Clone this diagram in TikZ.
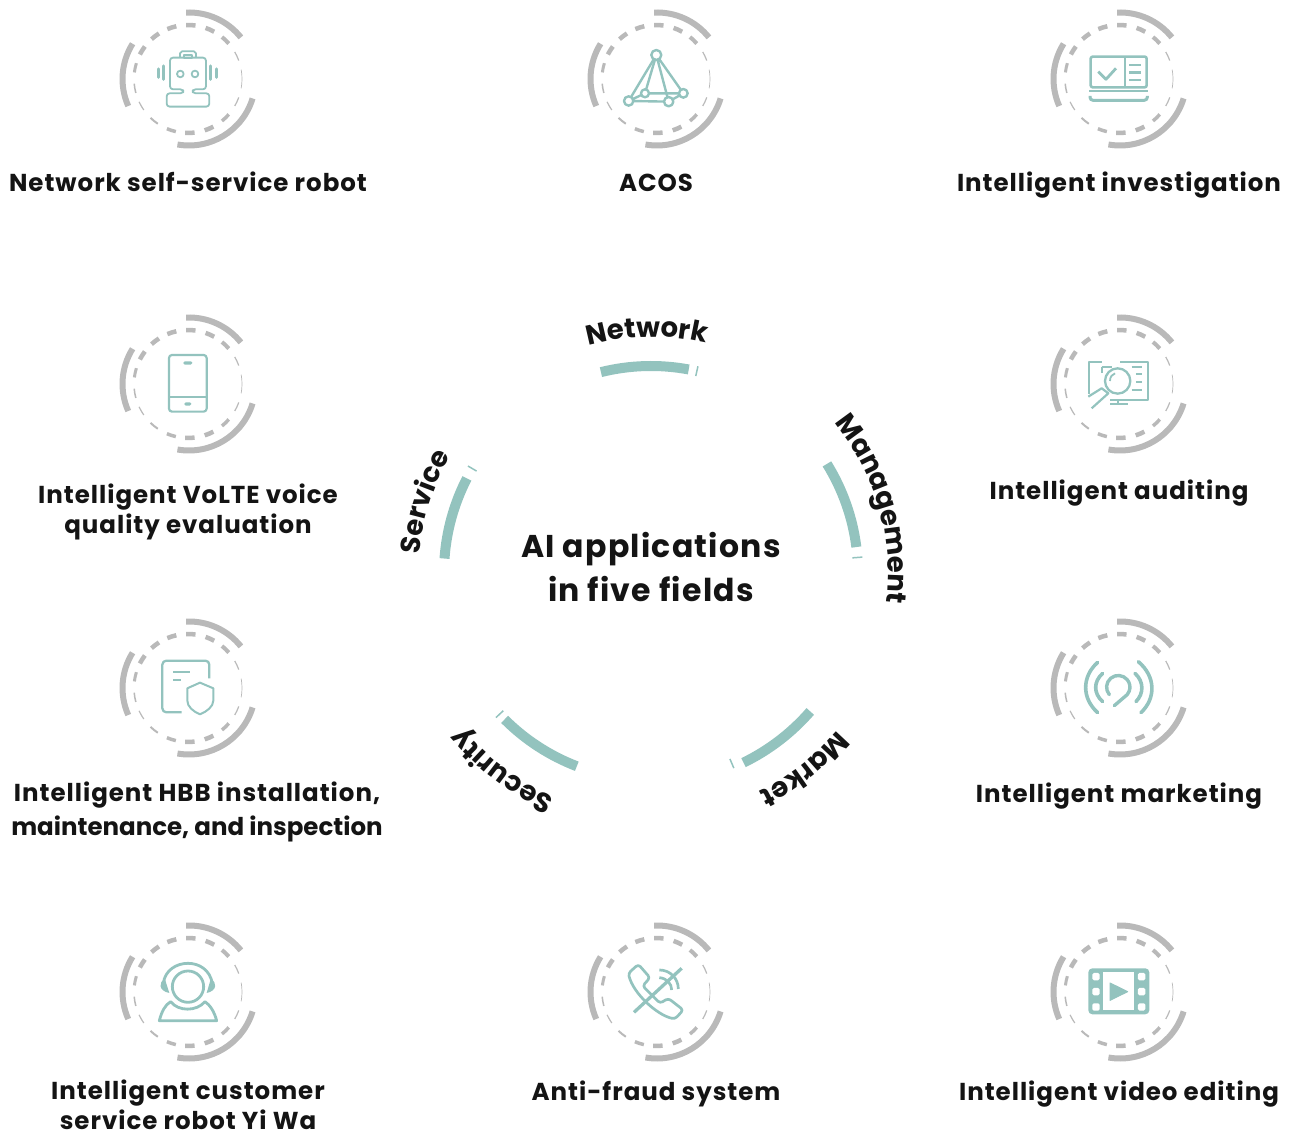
\documentclass[tikz,border=0pt]{standalone}
\usepackage{fontspec}
\setmainfont{Poppins}
\usetikzlibrary{decorations.text}
\definecolor{ringgray}{HTML}{B9B9B9}
\definecolor{iconteal}{HTML}{93C3BE}
\definecolor{inktext}{HTML}{141414}
\newfontfamily\spacedfont[LetterSpace=4]{Poppins}
\newfontfamily\plainfont{Poppins}
\tikzset{
  cropat/.style 2 args={shift={(#1,1135-#2)},x=.3333pt,y=-.3333pt},
  iconline/.style={draw=iconteal, line width=1.8pt, line join=round},
  ringarc/.style={draw=ringgray, line width=6pt},
  fieldarc/.style={draw=iconteal, line width=10pt},
  fieldtick/.style={draw=iconteal, line width=1.5pt},
  appname/.style={font=\spacedfont\fontsize{24.5}{30}\selectfont\bfseries, text=inktext, align=center, inner sep=0pt},
}
\newcommand{\fieldname}[3]{% angle, radius, text
  \path[decorate, decoration={text along path, text align=center,
    text={|\fontsize{27.5}{28}\selectfont\bfseries\color{inktext}|#3}}]
    (651,562) ++(#1+45:#2) arc[start angle=#1+45, end angle=#1-45, radius=#2];
}
\begin{document}
\begin{tikzpicture}[x=1pt,y=1pt]
    \useasboundingbox (0,0) rectangle (1294,1135);

    % 1. rings
    \foreach \cx/\cy in {188/1056,656/1056,1119/1056,188/751,1119/751,188/447,1119/447,188/143,656/143,1119/143} {
      \draw[ringarc] (\cx+1,\cy) ++(92.5:66.5) arc[start angle=92.5, end angle=38.7, radius=66.5];
      \draw[ringarc] (\cx+1,\cy) ++(-17:66.5) arc[start angle=-17, end angle=-100, radius=66.5];
      \draw[ringarc] (\cx+1,\cy) ++(148:66.5) arc[start angle=148, end angle=204, radius=66.5];
      \foreach \a/\s/\w in {87/5/4.5,66/5/4.5,46/5/4,25/5/1.2,0/10/.7,-25/5/1.2,-46/5/3.5,-67/5/4.5,-88/5/4.5,-108/5/3.5,-129/5/2,-150/5/1.2,-170/5/1.5,168/5/3,148/5/4.5,127.5/5/4.5,107.5/5/4.5} {
        \draw[draw=ringgray, line width=\w pt] (\cx,\cy) ++(\a+\s:54) arc[start angle=\a+\s, end angle=\a-\s, radius=54];
      }
    }

    % 2. icons
    \begin{scope}[cropat={100}{0}] % robot
      \draw[iconline] (240,173) -- (240,160) -- (246,154) -- (282,154) -- (288,160) -- (288,173);
      \draw[iconline] (252,165) rectangle (276,175);
      \draw[iconline, rounded corners=3pt] (250,268) -- (210,268) -- (210,173) -- (318,173) -- (318,268) -- (278,268) -- (278,280) -- (328,280) -- (328,320) -- (200,320) -- (200,280) -- (250,280) -- cycle;
      \draw[iconline] (241,222) circle (10) (285,222) circle (10);
      \draw[iconline, line width=3pt, line cap=round] (192,198) -- (192,238) (177,207) -- (177,232) (333,198) -- (333,238) (350,207) -- (350,232);
    \end{scope}

    \begin{scope}[cropat={570}{0}] % ACOS
      \draw[iconline, line width=2.4pt] (259,165) -- (176,303) -- (296,305) -- (340,280) -- (225,280) -- (176,303);
      \draw[iconline, line width=2.4pt] (225,280) -- (259,165) -- (296,305) (259,165) -- (340,280);
      \foreach \px/\py/\r in {259/165/15,176/303/14,296/305/14,340/280/13,225/280/12} {
        \draw[iconline, line width=2.4pt, fill=white] (\px,\py) circle (\r);
      }
    \end{scope}

    \begin{scope}[cropat={1030}{0}] % investigation
      \draw[iconline, line width=2.6pt, rounded corners=2pt] (182,170) rectangle (350,262);
      \draw[iconline, line width=2.6pt] (285,170) -- (285,262) (298,195) -- (332,195) (298,217) -- (332,217) (298,240) -- (332,240);
      \draw[iconline, line width=2.8pt] (205,215) -- (228,238) -- (258,205);
      \draw[iconline, line width=2.8pt] (178,273) -- (354,273);
      \draw[iconline, line width=3pt, rounded corners=3pt] (180,288) -- (180,301) -- (352,301) -- (352,288);
    \end{scope}

    \begin{scope}[cropat={100}{305}] % phone
      \draw[iconline, line width=2.2pt, rounded corners=3pt] (207,150) rectangle (320,320);
      \draw[iconline, line width=2.2pt] (207,276) -- (320,276);
      \fill[iconteal, rounded corners=1.5pt] (250,169) rectangle (277,179);
      \fill[iconteal, rounded corners=1.5pt] (253,292) rectangle (274,302);
    \end{scope}

    \begin{scope}[cropat={1030}{305}] % auditing
      \draw[iconline] (215,170) -- (178,170) -- (178,268);
      \draw[iconline] (270,170) -- (355,170) -- (355,285) -- (240,285);
      \draw[iconline] (215,185) -- (245,185) (215,185) -- (215,205);
      \draw[iconline] (305,187) -- (335,187) (318,208) -- (335,208) (318,230) -- (335,230) (305,254) -- (335,254);
      \draw[iconline] (265,285) -- (265,298) (240,298) -- (293,298);
      \draw[iconline, line width=2.3pt, fill=white] (263,228) circle (38);
      \draw[iconline] (240,228) .. controls (240,216) and (246,208) .. (255,205);
      \draw[iconline, line width=2.2pt] (175,275) -- (215,250) -- (235,265) -- (185,310);
    \end{scope}

    \begin{scope}[cropat={100}{610}] % shield
      \draw[iconline, line width=2.3pt, rounded corners=4pt] (245,307) -- (187,307) -- (187,152) -- (328,152) -- (328,205);
      \draw[iconline, line width=2.3pt] (220,187) -- (270,187) (220,210) -- (242,210);
      \draw[iconline, line width=2pt] (300,218) -- (340,235) -- (340,272) .. controls (340,290) and (320,305) .. (300,313) .. controls (280,305) and (262,290) .. (262,272) -- (262,235) -- cycle;
    \end{scope}

    \begin{scope}[cropat={1030}{610}] % marketing
      \draw[iconline, line width=3.6pt, line cap=round] (203,157) .. controls (155,200) and (155,265) .. (203,308);
      \draw[iconline, line width=3.6pt, line cap=round] (325,155) .. controls (378,200) and (378,265) .. (333,308);
      \draw[iconline, line width=3.6pt, line cap=round] (218,190) .. controls (190,215) and (190,250) .. (218,275);
      \draw[iconline, line width=3.6pt, line cap=round] (315,190) .. controls (342,215) and (342,250) .. (318,275);
      \draw[iconline, line width=3.4pt, line cap=round] (238,254) arc[start angle=140, end angle=420, radius=35] -- (253,287);
    \end{scope}

    \begin{scope}[cropat={100}{915}] % customer service
      \draw[iconline, line width=2.8pt] (190,205) .. controls (195,165) and (230,145) .. (264,145) .. controls (298,145) and (330,165) .. (337,205);
      \fill[iconteal] (195,193) .. controls (175,200) and (175,228) .. (208,234) -- cycle;
      \fill[iconteal] (332,193) .. controls (352,200) and (352,228) .. (320,234) -- cycle;
      \draw[iconline, line width=2.8pt] (264,215) circle (47);
      \draw[iconline, line width=2.8pt] (178,317) .. controls (185,290) and (195,270) .. (212,260) .. controls (235,290) and (290,290) .. (315,260) .. controls (330,270) and (343,290) .. (350,317) -- cycle;
    \end{scope}

    \begin{scope}[cropat={570}{915}] % anti-fraud
      \draw[iconline, line width=2.7pt, rounded corners=3pt] (205,148) -- (240,188) -- (218,213) -- (270,265) -- (295,250) -- (340,285) -- (315,312) .. controls (260,300) and (190,235) .. (175,175) -- cycle;
      \draw[iconline, line width=3.3pt] (192,292) -- (335,160);
      \draw[iconline, line width=2.7pt] (268,165) .. controls (300,165) and (325,190) .. (325,222);
      \draw[iconline, line width=2.7pt] (268,188) .. controls (290,190) and (305,205) .. (305,225);
    \end{scope}

    \begin{scope}[cropat={1030}{915}] % video
      \fill[iconteal, rounded corners=4pt] (175,160) rectangle (358,298);
      \fill[white] (220,172) rectangle (312,286);
      \foreach \py in {185,230,276} {
        \fill[white, rounded corners=1.5pt] (187,\py-11) rectangle (209,\py+11);
        \fill[white, rounded corners=1.5pt] (324,\py-11) rectangle (346,\py+11);
      }
      \fill[iconteal, draw=iconteal, line join=round, line width=1pt] (240,204) -- (293,230) -- (240,256) -- cycle;
    \end{scope}

    % 3. labels
    \node[appname, anchor=base] (robot) at (188,943) {Network self-service robot};
    \node[appname, anchor=base] (acos) at (656,943) {ACOS};
    \node[appname, anchor=base] (investigation) at (1119,943) {Intelligent investigation};
    \node[appname] (volte) at (188,623) {Intelligent VoLTE voice\\quality evaluation};
    \node[appname, anchor=base] (auditing) at (1119,635) {Intelligent auditing};
    \node[appname, font=\spacedfont\fontsize{24.5}{34}\selectfont\bfseries] (hbb) at (197,323) {Intelligent HBB installation,\\{\plainfont\bfseries maintenance, and inspection}};
    \node[appname, anchor=base] (marketing) at (1119,332) {Intelligent marketing};
    \node[appname] (yiwa) at (188,30) {Intelligent customer\\service robot Yi Wa};
    \node[appname, anchor=base] (antifraud) at (656,34) {Anti-fraud system};
    \node[appname, anchor=base] (video) at (1119,34) {Intelligent video editing};
    \node[appname, font=\spacedfont\fontsize{31.5}{44}\selectfont\bfseries] (title) at (651,568) {AI applications\\in five fields};

    % 4. the five fields
    \draw[fieldarc] (651,562) ++(104:207) arc[start angle=104, end angle=79.5, radius=207];
    \draw[fieldarc] (651,562) ++(31.8:207) arc[start angle=31.8, end angle=7.2, radius=207];
    \draw[fieldarc] (651,562) ++(-41:211) arc[start angle=-41, end angle=-64, radius=211];
    \draw[fieldarc] (651,562) ++(-111:207) arc[start angle=-111, end angle=-135, radius=207];
    \draw[fieldarc] (651,562) ++(176:207) arc[start angle=176, end angle=152.8, radius=207];
    \foreach \a in {77.2,4.3,-67,-137,149.7} {
      \draw[fieldtick] (651,562) ++(\a:202) -- ++(\a:10);
    }
    \fieldname{91}{236}{Network}
    \fieldname{16}{237}{Management}
    \fieldname{-52}{244}{Market}
    \fieldname{-127}{244}{Security}
    \fieldname{162.5}{232}{Service}
\end{tikzpicture}
\end{document}
